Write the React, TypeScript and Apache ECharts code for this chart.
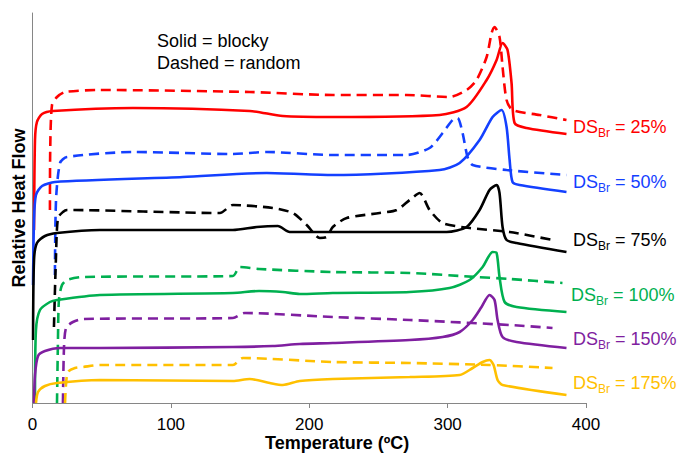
import React, { useEffect, useRef } from "react";
import * as echarts from "echarts";

// x = temperature (ºC), y = relative heat flow (arbitrary units, offset traces)
const red25Blocky: [number, number][] = [[1.1,173],[1.8,263],[3.2,281],[6.9,289],[14.8,292],[72.6,295],[157,292],[180.9,287],[217,286],[294.2,288],[313.7,296],[328.2,323],[335.4,343],[339.7,360],[343.3,353],[346.2,320],[348.4,280],[357,275],[385.9,269]];
const red25Random: [number, number][] = [[12.6,193],[12.8,253],[14.1,298],[17.7,306],[23.5,311],[48.7,313],[157,311],[217,308],[270.4,308],[301.4,306],[313.7,313],[320.9,323],[328.2,346],[331.8,370],[333.9,376],[337.5,366],[339.7,336],[342.6,303],[346.9,293],[366.4,288],[385.9,283]];
const blue50Blocky: [number, number][] = [[0.4,118],[1.1,183],[2.5,208],[6.9,217],[16.2,221],[108.7,226],[169.3,230],[217,228],[294.2,233],[308.7,240],[323.1,263],[332.5,286],[339,293],[342.6,276],[344.8,243],[346.9,221],[352,218],[385.9,211]];
const blue50Random: [number, number][] = [[16.2,128],[17,203],[19.9,240],[24.9,246],[72.6,251],[144.8,249],[169.3,251],[217,248],[270.4,248],[287,255],[296.4,270],[303.6,283],[307.2,285],[310.8,270],[314.4,246],[318.1,238],[342.6,233],[385.9,228]];
const black75Blocky: [number, number][] = [[0.4,63],[1.1,143],[3.2,160],[9,167],[17.7,170],[48.7,173],[144.8,173],[162.1,176],[177.3,177],[185.9,171],[227.1,171],[299.3,171],[313.7,176],[323.1,193],[330.3,213],[335.4,218],[337.5,210],[339.7,176],[342.6,163],[349.8,160],[385.9,151]];
const black75Random: [number, number][] = [[15.5,76],[16.9,143],[18.4,185],[22,191],[24.9,193],[135.4,190],[144.8,198],[173.6,195],[188.1,190],[198.2,178],[207.6,165],[212.6,166],[217,176],[227.1,185],[250.9,190],[263.2,193],[272.6,203],[279.8,210],[287,193],[296.4,180],[315.9,175],[344.8,171],[375.8,163]];
const green100Blocky: [number, number][] = [[1.8,0],[2.5,73],[5.4,93],[12.6,101],[17.7,103],[48.7,108],[144.8,110],[163.7,112],[180.9,111],[193.1,109],[217,110],[272.6,111],[301.4,115],[315.9,123],[325.3,136],[332.5,151],[335.4,150],[337.5,126],[341.2,101],[349.8,96],[385.9,91]];
const green100Random: [number, number][] = [[17.7,0],[18.4,63],[19.1,103],[21.3,118],[24.9,123],[36.5,126],[144.8,127],[149.8,136],[163.7,134],[217,131],[272.6,130],[320.9,126],[344.8,124],[383,120]];
const purple150Blocky: [number, number][] = [[1.1,0],[1.8,28],[4,47],[9,52],[19.9,55],[48.7,55],[144.8,56],[173.6,57],[193.1,59],[217,60],[272.6,63],[296.4,66],[308.7,71],[318.1,83],[324.5,96],[330.3,108],[333.9,103],[336.1,83],[339.7,66],[349.8,61],[385.9,55]];
const purple150Random: [number, number][] = [[22,0],[22.7,53],[24.2,75],[29.2,81],[36.5,84],[144.8,85],[153.4,90],[217,86],[272.6,83],[344.8,78],[375.8,75]];
const yellow175Blocky: [number, number][] = [[2.5,0],[4,11],[9,17],[17.7,20],[48.7,23],[144.8,22],[157,24],[171.5,20],[180.9,18],[193.1,22],[217,24],[272.6,26],[308.7,28],[318.1,35],[325.3,41],[330.3,43],[333.2,38],[336.1,23],[339.7,18],[385.9,8]];
const yellow175Random: [number, number][] = [[23.5,0],[24.2,18],[25.6,31],[30.7,35],[36.5,36],[48.7,38],[144.8,38],[152,45],[217,41],[272.6,40],[330.3,38],[375.8,35]];

const dsLabels = ["25%", "50%", "75%", "100%", "150%", "175%"];
const colors = ["#FF0000", "#1440FF", "#000000", "#00B050", "#7F1FA0", "#FFC000"];
const labelPos = [[573, 128], [573, 183], [573, 241], [571, 296], [573, 340], [573, 384]];

const FONT = "'Liberation Sans', Arial, sans-serif";

export default function App() {
  const ref = useRef<HTMLDivElement>(null);
  useEffect(() => {
    if (!ref.current) return;
    const chart = echarts.init(ref.current, undefined, { renderer: "svg" });
    const pairs: [[number, number][], [number, number][]][] = [
      [red25Blocky, red25Random],
      [blue50Blocky, blue50Random],
      [black75Blocky, black75Random],
      [green100Blocky, green100Random],
      [purple150Blocky, purple150Random],
      [yellow175Blocky, yellow175Random],
    ];
    const series: any[] = [];
    pairs.forEach(([solid, dashed], i) => {
      series.push({
        type: "line", data: dashed, showSymbol: false, smooth: 0.25,
        lineStyle: { color: colors[i], width: 2.6, type: [10, 6] }, z: 2,
      });
      series.push({
        type: "line", data: solid, showSymbol: false, smooth: 0.25,
        lineStyle: { color: colors[i], width: 2.6, type: "solid" }, z: 3,
      });
    });
    const graphic: any[] = [
      {
        type: "text", left: 157, top: 30,
        style: { text: "Solid = blocky\nDashed = random", fontSize: 18, lineHeight: 22, fill: "#000", fontFamily: FONT },
      },
      {
        type: "text", left: 265, top: 434,
        style: { text: "Temperature (ºC)", fontSize: 18, fontWeight: "bold", fill: "#000", fontFamily: FONT },
      },
    ];
    dsLabels.forEach((l, i) => {
      graphic.push({
        type: "text", left: labelPos[i][0], top: labelPos[i][1] - 10,
        style: {
          text: `{a|DS}{b|Br}{a| = ${l}}`,
          fill: colors[i],
          rich: {
            a: { fontSize: 18, lineHeight: 18, verticalAlign: "top", fill: colors[i], fontFamily: FONT },
            b: { fontSize: 12, lineHeight: 12, verticalAlign: "top", padding: [9, 0, 0, 0], fill: colors[i], fontFamily: FONT },
          },
        },
      });
    });
    chart.setOption({
      animation: false,
      grid: { left: 32.5, right: 93, top: 13, bottom: 51 },
      xAxis: {
        type: "value", min: 0, max: 400, interval: 100,
        axisLine: { lineStyle: { color: "#868686", width: 1 } },
        axisTick: { show: true, length: 5, lineStyle: { color: "#868686" } },
        axisLabel: { fontSize: 17, color: "#000", margin: 13, fontFamily: FONT },
        splitLine: { show: false },
      },
      yAxis: {
        type: "value", min: 0, max: 390,
        axisLine: { show: true, lineStyle: { color: "#868686", width: 1 } },
        axisTick: { show: false },
        axisLabel: { show: false },
        splitLine: { show: false },
        name: "Relative Heat Flow", nameLocation: "middle", nameGap: 5,
        nameTextStyle: { fontSize: 18, fontWeight: "bold", color: "#000", fontFamily: FONT },
      },
      graphic,
      series,
    });
    return () => chart.dispose();
  }, []);
  return <div ref={ref} style={{ width: 679, height: 454, position: "absolute", left: 0, top: 0 }} />;
}
